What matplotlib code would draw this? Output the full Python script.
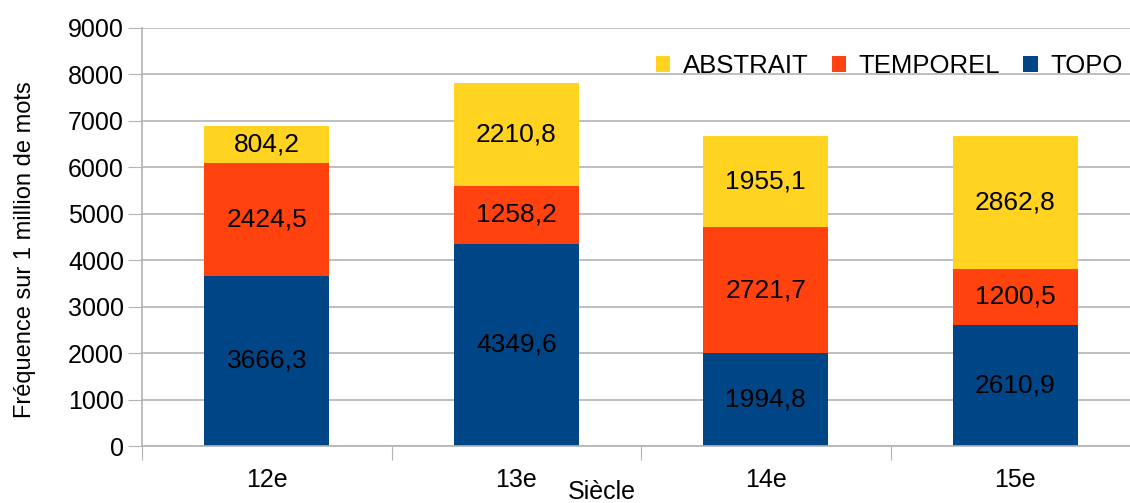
import matplotlib.pyplot as plt
import numpy as np

siecles = ['12e', '13e', '14e', '15e']
topo = [3666.3, 4349.6, 1994.8, 2610.9]
temporel = [2424.5, 1258.2, 2721.7, 1200.5]
abstrait = [804.2, 2210.8, 1955.1, 2862.8]

plt.rcParams['font.family'] = ['Liberation Sans', 'DejaVu Sans']

fig = plt.figure(figsize=(11.3, 5.03), dpi=100)
ax = fig.add_axes([142 / 1130, 57 / 503, 998 / 1130, 418 / 503])

x = np.arange(len(siecles))
w = 0.5
b1 = ax.bar(x, topo, w, color='#004586', label='TOPO', zorder=2)
bottom2 = np.array(topo)
b2 = ax.bar(x, temporel, w, bottom=bottom2, color='#ff420e', label='TEMPOREL', zorder=2)
bottom3 = bottom2 + np.array(temporel)
b3 = ax.bar(x, abstrait, w, bottom=bottom3, color='#ffd320', label='ABSTRAIT', zorder=2)

for bars in (b1, b2, b3):
    labels = [('%.1f' % v).replace('.', ',') for v in bars.datavalues]
    ax.bar_label(bars, labels=labels, label_type='center', fontsize=19, color='black')

ax.set_xlim(-0.5, 3.5)
ax.set_ylim(0, 9000)
ax.set_yticks(range(0, 9001, 1000))
ax.tick_params(axis='y', labelsize=18, length=10, color='#b3b3b3', pad=3)
ax.yaxis.grid(True, color='#b3b3b3', linewidth=1.2, zorder=0)

# category ticks between bars, labels at centres
ax.set_xticks(np.arange(-0.5, 4, 1))
ax.set_xticklabels([])
ax.set_xticks(x, minor=True)
ax.set_xticklabels(siecles, minor=True, fontsize=18)
ax.tick_params(axis='x', which='major', length=10, color='#b3b3b3')
ax.tick_params(axis='x', which='minor', length=0, pad=16)

for s in ['top', 'right']:
    ax.spines[s].set_visible(False)
for s in ['left', 'bottom']:
    ax.spines[s].set_color('#b3b3b3')
    ax.spines[s].set_linewidth(1.2)

fig.text(25 / 1130, 1 - 250 / 503, 'Fréquence sur 1 million de mots', fontsize=17,
         rotation=90, ha='center', va='center')
fig.text(602 / 1130, 1 - 492 / 503, 'Siècle', fontsize=18, ha='center', va='center')

fig.legend(handles=[b3, b2, b1], loc='center right', bbox_to_anchor=(1133 / 1130, 1 - 66 / 503),
           ncol=3, frameon=False, fontsize=18.5, handlelength=0.55, handleheight=0.55,
           handletextpad=0.5, columnspacing=0.9, borderaxespad=0)

fig.savefig('out.png', dpi=100)
